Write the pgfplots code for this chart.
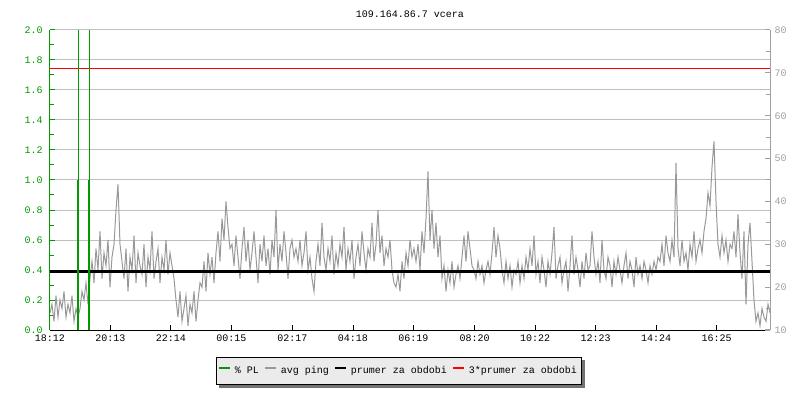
\documentclass[border=0pt]{standalone}
\usepackage{fontspec}
\setmainfont{Liberation Mono}
\usepackage{pgfplots}
\pgfplotsset{compat=1.18}
\usepackage{pgfplotstable}
\usetikzlibrary{backgrounds}

\definecolor{plgreen}{RGB}{0,153,0}
\definecolor{pinggray}{RGB}{153,153,153}
\definecolor{gridgray}{RGB}{192,192,192}
\definecolor{axgray}{RGB}{160,160,160}
\definecolor{legbg}{RGB}{235,235,235}

% avg ping [ms], one sample every 4 minutes from 18:12
\pgfplotstableread[row sep=\\]{
ms\\
14\\16\\12\\18\\13\\17\\15\\19\\13\\16\\14\\18\\12\\15\\13\\
15\\19\\17\\21\\16\\22\\
26\\21\\29\\24\\33\\22\\28\\25\\31\\20\\27\\30\\
38\\44\\30\\
26\\22\\29\\19\\27\\24\\32\\21\\28\\25\\23\\30\\20\\27\\24\\33\\22\\26\\29\\21\\27\\24\\31\\23\\28\\25\\
22\\17\\13\\19\\12\\15\\18\\11\\16\\14\\19\\12\\17\\21\\
20\\26\\19\\28\\23\\27\\21\\
28\\33\\26\\36\\31\\40\\34\\29\\
30\\25\\32\\27\\22\\29\\34\\26\\31\\24\\28\\33\\27\\21\\30\\26\\32\\25\\29\\23\\31\\27\\38\\24\\30\\26\\33\\28\\22\\29\\31\\27\\
29\\26\\31\\25\\28\\33\\24\\27\\22\\19\\
26\\30\\25\\35\\27\\24\\29\\26\\32\\23\\
28\\25\\30\\27\\34\\24\\29\\26\\31\\22\\
27\\30\\25\\33\\28\\24\\29\\27\\35\\26\\
30\\38\\28\\32\\25\\29\\27\\31\\24\\21\\
20\\23\\19\\26\\22\\28\\25\\31\\27\\29\\
26\\30\\24\\33\\28\\36\\47\\31\\38\\29\\35\\27\\32\\
22\\25\\19\\24\\21\\26\\20\\23\\25\\22\\
27\\32\\26\\33\\29\\25\\
24\\22\\26\\23\\25\\21\\24\\26\\23\\
28\\34\\27\\32\\29\\
24\\21\\26\\22\\25\\20\\24\\23\\26\\21\\25\\22\\27\\24\\29\\
25\\32\\23\\26\\21\\27\\24\\20\\26\\23\\
28\\34\\22\\25\\27\\21\\24\\26\\19\\25\\
32\\23\\27\\24\\20\\26\\22\\28\\24\\25\\
33\\27\\23\\26\\21\\31\\24\\22\\27\\25\\
20\\26\\23\\27\\24\\21\\25\\28\\22\\26\\
24\\20\\27\\23\\25\\22\\26\\24\\21\\25\\
23\\26\\
24\\27\\26\\30\\25\\32\\28\\26\\31\\27\\
49\\
29\\25\\31\\26\\28\\24\\30\\27\\33\\26\\29\\31\\28\\33\\
36\\42\\39\\48\\54\\
40\\30\\27\\32\\28\\31\\26\\30\\29\\33\\27\\37\\
28\\22\\33\\16\\30\\35\\26\\
17\\12\\14\\11\\15\\13\\12\\16\\14\\
}\pingdata

\pgfplotsset{
  chart/.style={
    scale only axis, width=540pt, height=225pt,
    at={(0,0)}, anchor=south west,
    xmin=0, xmax=1440,
    major tick length=3.75pt, minor tick length=3pt,
    tick label style={font=\fontsize{7.5}{9}\selectfont},
    /pgf/number format/assume math mode=true,
  }
}

\begin{document}
\begin{tikzpicture}
\useasboundingbox (-37.5pt,-52.5pt) rectangle (562.5pt,247.5pt);

% left axis, grid, time axis, legend
\begin{axis}[chart,
  ymin=0, ymax=2,
  axis x line*=bottom, axis y line*=left,
  separate axis lines,
  x axis line style={-, black, line width=0.75pt},
  y axis line style={-, plgreen, line width=0.75pt},
  ytick={0,0.2,0.4,0.6,0.8,1,1.2,1.4,1.6,1.8,2},
  minor y tick num=1,
  ymajorgrids, grid style={gridgray, line width=0.75pt},
  ytick style={plgreen, line width=0.75pt},
  xtick style={black, line width=0.75pt},
  yticklabel style={text=plgreen, xshift=-2pt, /pgf/number format/.cd, fixed, fixed zerofill, precision=1},
  xtick={0,121,242,363,485,606,727,849,970,1091,1212,1333},
  xticklabels={18:12,20:13,22:14,00:15,02:17,04:18,06:19,08:20,10:22,12:23,14:24,16:25},
  title={109.164.86.7 vcera},
  title style={font=\fontsize{7.5}{9}\selectfont, at={(0.5,1)}, anchor=center, yshift=6pt},
  legend columns=4,
  legend style={name=leg, at={(0.4847,-0.1367)}, anchor=center,
    fill=legbg, draw=black, line width=0.75pt,
    font=\fontsize{7.5}{9}\selectfont, inner xsep=1pt, inner ysep=4.5pt,
    /tikz/every odd column/.append style={column sep=1pt},
    /tikz/every even column/.append style={column sep=2pt}},
  legend image code/.code={\draw[#1, line width=1.5pt] (0pt,2.6pt) -- (8pt,2.6pt);},
]
\addlegendimage{plgreen}
\addlegendentry{\% PL}
\addlegendimage{pinggray}
\addlegendentry{avg ping}
\addlegendimage{black}
\addlegendentry{prumer za obdobi}
\addlegendimage{red}
\addlegendentry{3*prumer za obdobi}
\end{axis}

% legend shadow
\begin{scope}[on background layer]
\fill[black!55] ([shift={(2.25pt,-2.25pt)}]leg.south west) rectangle ([shift={(2.25pt,-2.25pt)}]leg.north east);
\end{scope}

% right axis: ping in ms
\begin{axis}[chart,
  ymin=10, ymax=80,
  axis x line=none, axis y line*=right,
  y axis line style={-, axgray, line width=0.75pt},
  ytick={10,20,30,40,50,60,70,80},
  minor y tick num=1,
  ytick style={axgray, line width=0.75pt},
  yticklabel style={text=axgray},
]
\addplot[pinggray, line width=0.75pt, no marks] table[x expr=\coordindex*4, y=ms] {\pingdata};
\addplot[black, line width=1.7pt, no marks] coordinates {(0,23.65) (1440,23.65)};
\addplot[red, line width=0.9pt, no marks] coordinates {(0,71.0) (1440,71.0)};
\end{axis}

% packet loss, left units
\begin{axis}[chart, ymin=0, ymax=2, hide axis]
\addplot[ycomb, plgreen, line width=0.75pt, no marks] coordinates {(56,2) (78,2)};
\addplot[ycomb, plgreen, line width=1.5pt, no marks] coordinates {(56,1) (78,1)};
\end{axis}
\end{tikzpicture}
\end{document}
